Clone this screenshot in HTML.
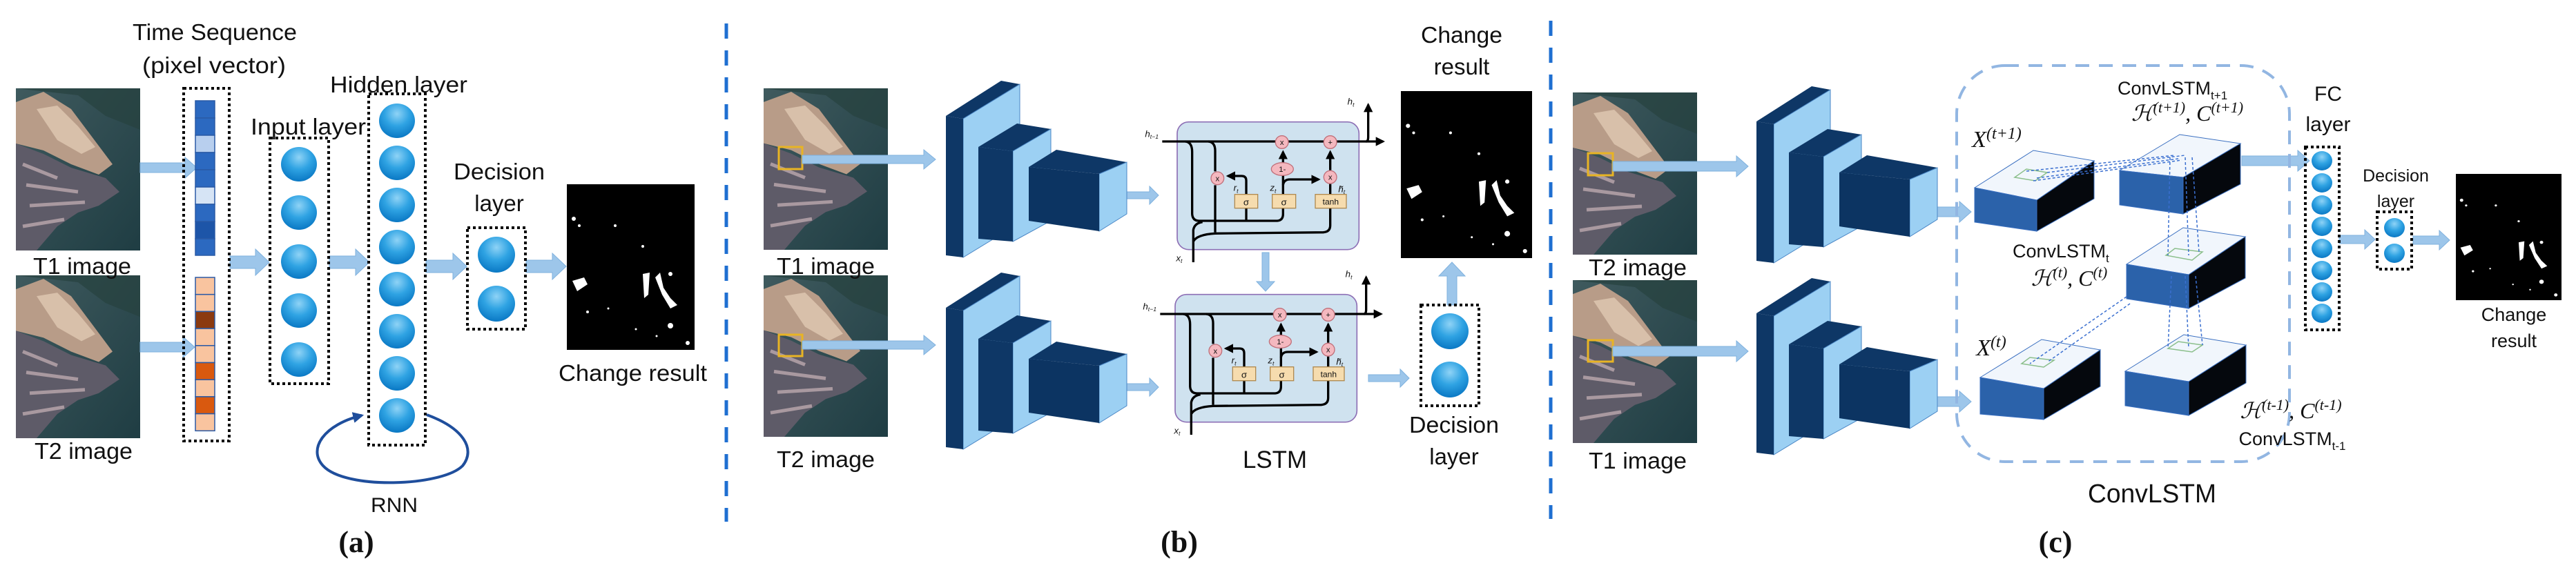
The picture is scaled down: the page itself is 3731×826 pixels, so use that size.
<!DOCTYPE html>
<html><head><meta charset="utf-8"><style>
html,body{margin:0;padding:0;background:#fff;}
svg{display:block;}
text{font-family:"Liberation Sans",sans-serif;fill:#111;}
.lbl{font-size:33px;}
.math{font-family:"Liberation Serif","DejaVu Serif",serif;font-style:italic;}
.cap{font-family:"Liberation Serif",serif;font-weight:bold;font-size:44px;}
</style></head><body>
<svg width="3731" height="826" viewBox="0 0 3731 826" xmlns="http://www.w3.org/2000/svg">
<defs>
  <radialGradient id="ball" cx="0.5" cy="0.3" r="0.7">
    <stop offset="0" stop-color="#8fd3f6"/><stop offset="0.5" stop-color="#2fa3e3"/><stop offset="1" stop-color="#0a78c4"/>
  </radialGradient>
  <linearGradient id="sea" x1="0" y1="0" x2="1" y2="1">
    <stop offset="0" stop-color="#3f5a5e"/><stop offset="1" stop-color="#1f3d43"/>
  </linearGradient>
  <symbol id="sat" viewBox="0 0 180 235" preserveAspectRatio="none">
    <rect width="180" height="235" fill="url(#sea)"/>
    <path d="M0,20 L40,5 L80,30 L110,70 L140,110 L120,125 L80,110 L40,90 L0,80Z" fill="#b89c88"/>
    <path d="M30,30 L60,25 L90,55 L115,85 L95,95 L60,75Z" fill="#d8c0aa"/>
    <path d="M0,80 L40,95 L80,115 L130,130 L150,150 L120,170 L90,180 L60,200 L30,235 L0,235Z" fill="#5e5b68"/>
    <path d="M10,110 L60,130 M15,140 L90,150 M20,170 L100,165 M10,200 L70,190" stroke="#a999a0" stroke-width="5" fill="none"/>
    <path d="M0,0 L180,0 L180,60 L130,40 L90,10Z" fill="#26423f" opacity="0.7"/>
  </symbol>
  <symbol id="chg" viewBox="0 0 185 240" preserveAspectRatio="none">
    <rect width="185" height="240" fill="#000"/>
    <g fill="#fff">
      <path d="M8,140 L25,135 L30,145 L15,155Z"/><circle cx="10" cy="50" r="3"/><circle cx="18" cy="60" r="2"/>
      <path d="M110,130 L120,128 L118,160 L112,165Z"/><path d="M128,135 L135,128 L140,150 L150,165 L160,175 L150,180 L138,160Z"/>
      <circle cx="150" cy="130" r="3"/><circle cx="70" cy="60" r="2"/><circle cx="110" cy="90" r="2"/>
      <circle cx="150" cy="205" r="4"/><circle cx="60" cy="180" r="1.5"/><circle cx="100" cy="210" r="1.5"/>
      <circle cx="30" cy="185" r="2"/><circle cx="175" cy="230" r="3"/><circle cx="130" cy="220" r="1.5"/>
    </g>
  </symbol>
  <marker id="ah" viewBox="0 0 10 10" refX="8" refY="5" markerWidth="4" markerHeight="4" orient="auto"><path d="M0,0 L10,5 L0,10Z" fill="#000"/></marker>
  <marker id="ahb" viewBox="0 0 10 10" refX="8" refY="5" markerWidth="4" markerHeight="4" orient="auto"><path d="M0,0 L10,5 L0,10Z" fill="#1f4e9c"/></marker>
  <symbol id="cnn" viewBox="0 0 300 320" overflow="visible">
    <g transform="translate(-1370,-117)">
    <polygon points="1370,168 1450,117 1477,122 1395,172" fill="#0e3766"/>
    <polygon points="1395,172 1477,122 1477,323 1395,373" fill="#9cd0f3" stroke="#4a86c5" stroke-width="1"/>
    <polygon points="1370,168 1395,172 1395,373 1370,370" fill="#0e3766"/>
    <polygon points="1417,213 1473,179 1522,187 1467,219" fill="#0e3766"/>
    <polygon points="1467,219 1522,187 1522,320 1467,350" fill="#9cd0f3" stroke="#4a86c5" stroke-width="1"/>
    <polygon points="1417,213 1467,219 1467,350 1417,346" fill="#0e3766"/>
    <polygon points="1490,242 1530,217 1632,235 1592,252" fill="#0e3766"/>
    <polygon points="1592,252 1632,235 1632,310 1592,335" fill="#9cd0f3" stroke="#4a86c5" stroke-width="1"/>
    <polygon points="1490,242 1592,252 1592,335 1490,320" fill="#0c3462"/>
    </g>
  </symbol>
  <symbol id="lstm" viewBox="0 0 1200 800" overflow="visible">
    <rect x="165" y="170" width="790" height="555" rx="50" fill="#cfe2ef" stroke="#8d6fb5" stroke-width="5"/>
    <g fill="none" stroke="#000" stroke-width="10">
      <path d="M100,255 L1060,255" marker-end="url(#ah)"/>
      <path d="M985,255 Q995,255 995,235 L995,95" marker-end="url(#ah)"/>
      <path d="M200,255 Q230,258 230,300 L230,570 Q232,600 260,600 L600,600 Q625,598 625,570 L625,545"/>
      <path d="M465,600 L465,545"/>
      <path d="M465,485 L465,425 Q465,405 445,405 L385,405" marker-end="url(#ah)"/>
      <path d="M300,255 Q330,258 330,295 L330,385"/>
      <path d="M330,445 L330,650"/>
      <path d="M235,780 L235,640 Q240,610 275,605"/>
      <path d="M235,690 Q250,660 330,655 L800,650 Q830,648 830,620 L830,545"/>
      <path d="M625,485 L625,400"/>
      <path d="M625,355 L625,300" marker-end="url(#ah)"/>
      <path d="M625,445 Q628,420 655,420 L780,420" marker-end="url(#ah)"/>
      <path d="M830,485 L830,440"/>
      <path d="M830,380 L830,300" marker-end="url(#ah)"/>
    </g>
    <g fill="#f4b8bf" stroke="#c0707a" stroke-width="4">
      <circle cx="620" cy="258" r="28"/><circle cx="830" cy="258" r="28"/>
      <circle cx="340" cy="415" r="28"/><circle cx="830" cy="410" r="28"/>
      <ellipse cx="622" cy="375" rx="48" ry="28"/>
    </g>
    <g font-family="Liberation Sans,sans-serif" font-size="34" text-anchor="middle" fill="#333">
      <text x="620" y="270">x</text><text x="830" y="270">+</text><text x="340" y="427">x</text><text x="830" y="422">x</text><text x="622" y="387">1-</text>
    </g>
    <g fill="#f6dcae" stroke="#b08a50" stroke-width="4">
      <rect x="415" y="485" width="100" height="60"/><rect x="578" y="485" width="102" height="60"/><rect x="765" y="485" width="135" height="60"/>
    </g>
    <g font-size="40" text-anchor="middle" fill="#222">
      <text x="465" y="532">σ</text><text x="629" y="532">σ</text><text x="832" y="530" font-size="36">tanh</text>
    </g>
    <g class="math" font-size="40" fill="#777">
      <text x="25" y="235">h<tspan font-size="26" dy="8">t−1</tspan></text>
      <text x="905" y="95">h<tspan font-size="26" dy="8">t</tspan></text>
      <text x="410" y="470">r<tspan font-size="26" dy="8">t</tspan></text>
      <text x="568" y="470">z<tspan font-size="26" dy="8">t</tspan></text>
      <text x="865" y="475">h̃<tspan font-size="26" dy="8">t</tspan></text>
      <text x="160" y="775">x<tspan font-size="26" dy="8">t</tspan></text>
    </g>
  </symbol>
</defs>

<!-- separators -->
<line x1="1052" y1="34" x2="1052" y2="756" stroke="#1f6fd1" stroke-width="5" stroke-dasharray="22 17"/>
<line x1="2246" y1="30" x2="2246" y2="752" stroke="#1f6fd1" stroke-width="5" stroke-dasharray="22 17"/>

<!-- ================= Panel (a) ================= -->
<text class="lbl" x="192" y="58" textLength="238" lengthAdjust="spacingAndGlyphs">Time Sequence</text>
<text class="lbl" x="206" y="106" textLength="208" lengthAdjust="spacingAndGlyphs">(pixel vector)</text>
<use href="#sat" x="23" y="128" width="180" height="235"/>
<use href="#sat" x="23" y="399" width="180" height="236"/>
<text class="lbl" x="48" y="397" textLength="142" lengthAdjust="spacingAndGlyphs">T1 image</text>
<text class="lbl" x="50" y="665" textLength="142" lengthAdjust="spacingAndGlyphs">T2 image</text>
<g fill="#9dc6ea" stroke="#7fb1de" stroke-width="1">
  <polygon points="203,236 268,236 268,228 285,243 268,258 268,250 203,250"/>
  <polygon points="203,496 265,496 265,488 282,503 265,518 265,510 203,510"/>
  <polygon points="333,371 370,371 370,361 390,380 370,399 370,389 333,389"/>
  <polygon points="477,371 515,371 515,361 535,380 515,399 515,389 477,389"/>
  <polygon points="617,377 656,377 656,367 676,386 656,405 656,395 617,395"/>
  <polygon points="762,377 800,377 800,367 820,386 800,405 800,395 762,395"/>
</g>
<rect x="266" y="128" width="66" height="511" fill="none" stroke="#000" stroke-width="4" stroke-dasharray="4 4"/>
<g stroke="#2a5aa6" stroke-width="1.5">
  <rect x="283" y="146" width="28" height="25" fill="#2c69c0"/><rect x="283" y="171" width="28" height="25" fill="#2c69c0"/>
  <rect x="283" y="196" width="28" height="25" fill="#b8cfee"/><rect x="283" y="221" width="28" height="25" fill="#2c69c0"/>
  <rect x="283" y="246" width="28" height="25" fill="#2c69c0"/><rect x="283" y="271" width="28" height="25" fill="#d6e4f5"/>
  <rect x="283" y="296" width="28" height="25" fill="#2c69c0"/><rect x="283" y="321" width="28" height="25" fill="#1d55a8"/>
  <rect x="283" y="346" width="28" height="24" fill="#2c69c0"/>
</g>
<g stroke="#2a5aa6" stroke-width="1.5">
  <rect x="283" y="402" width="28" height="24.7" fill="#f9c49f"/><rect x="283" y="426.7" width="28" height="24.7" fill="#f9c49f"/>
  <rect x="283" y="451.4" width="28" height="24.7" fill="#8b3a10"/><rect x="283" y="476.1" width="28" height="24.7" fill="#f9c49f"/>
  <rect x="283" y="500.8" width="28" height="24.7" fill="#f9c49f"/><rect x="283" y="525.5" width="28" height="24.7" fill="#d9590f"/>
  <rect x="283" y="550.2" width="28" height="24.7" fill="#f9c49f"/><rect x="283" y="574.9" width="28" height="24.7" fill="#d9590f"/>
  <rect x="283" y="599.6" width="28" height="24.7" fill="#f9c49f"/>
</g>
<text class="lbl" x="363" y="195" textLength="167" lengthAdjust="spacingAndGlyphs">Input layer</text>
<rect x="391" y="200" width="85" height="356" fill="none" stroke="#000" stroke-width="4" stroke-dasharray="4 4"/>
<g fill="url(#ball)">
  <ellipse cx="433" cy="238" rx="26" ry="25"/><ellipse cx="433" cy="308" rx="26" ry="25"/><ellipse cx="433" cy="379" rx="26" ry="25"/>
  <ellipse cx="433" cy="450" rx="26" ry="25"/><ellipse cx="433" cy="521" rx="26" ry="25"/>
</g>
<text class="lbl" x="478" y="134" textLength="199" lengthAdjust="spacingAndGlyphs">Hidden layer</text>
<rect x="534" y="136" width="82" height="509" fill="none" stroke="#000" stroke-width="4" stroke-dasharray="4 4"/>
<g fill="url(#ball)">
  <ellipse cx="575" cy="175" rx="26" ry="25"/><ellipse cx="575" cy="236" rx="26" ry="25"/><ellipse cx="575" cy="297" rx="26" ry="25"/>
  <ellipse cx="575" cy="358" rx="26" ry="25"/><ellipse cx="575" cy="419" rx="26" ry="25"/><ellipse cx="575" cy="480" rx="26" ry="25"/>
  <ellipse cx="575" cy="541" rx="26" ry="25"/><ellipse cx="575" cy="602" rx="26" ry="25"/>
</g>
<path d="M618,601 C670,620 690,650 670,675 C640,705 500,710 468,675 C445,650 470,615 524,602" fill="none" stroke="#1f4e9c" stroke-width="4" marker-end="url(#ahb)"/>
<text x="537" y="742" font-size="30" textLength="68" lengthAdjust="spacingAndGlyphs">RNN</text>
<text class="lbl" x="657" y="260" textLength="132" lengthAdjust="spacingAndGlyphs">Decision</text>
<text class="lbl" x="723" y="306" text-anchor="middle">layer</text>
<rect x="677" y="330" width="84" height="147" fill="none" stroke="#000" stroke-width="4" stroke-dasharray="4 4"/>
<g fill="url(#ball)"><ellipse cx="719" cy="369" rx="27" ry="26"/><ellipse cx="719" cy="440" rx="27" ry="26"/></g>
<use href="#chg" x="821" y="267" width="185" height="240"/>
<text class="lbl" x="809" y="552" textLength="215" lengthAdjust="spacingAndGlyphs">Change result</text>
<text class="cap" x="516" y="800" text-anchor="middle">(a)</text>

<!-- ================= Panel (b) ================= -->
<use href="#sat" x="1106" y="128" width="180" height="234"/>
<use href="#sat" x="1106" y="399" width="180" height="234"/>
<rect x="1128" y="213" width="34" height="32" fill="none" stroke="#e8b424" stroke-width="3"/>
<rect x="1128" y="485" width="34" height="31" fill="none" stroke="#e8b424" stroke-width="3"/>
<text class="lbl" x="1125" y="397" textLength="142" lengthAdjust="spacingAndGlyphs">T1 image</text>
<text class="lbl" x="1125" y="677" textLength="142" lengthAdjust="spacingAndGlyphs">T2 image</text>
<g fill="#9dc6ea" stroke="#7fb1de" stroke-width="1">
  <polygon points="1162,225 1338,225 1338,217 1355,231 1338,245 1338,237 1162,237"/>
  <polygon points="1162,494 1338,494 1338,486 1355,500 1338,514 1338,506 1162,506"/>
  <polygon points="1613,278 1665,278 1665,270 1678,283 1665,296 1665,288 1613,288"/>
  <polygon points="1613,556 1665,556 1665,548 1678,561 1665,574 1665,566 1613,566"/>
  <polygon points="1828,366 1838,366 1838,408 1846,408 1833,422 1820,408 1828,408"/>
  <polygon points="1982,543 2028,543 2028,535 2041,548 2028,561 2028,553 1982,553"/>
  <polygon points="2096,442 2110,442 2110,400 2122,400 2103,380 2084,400 2096,400"/>
</g>
<use href="#cnn" x="1370" y="117" width="300" height="320"/>
<use href="#cnn" x="1370" y="395" width="300" height="320"/>
<use href="#lstm" x="1650" y="120" width="400" height="266.67"/>
<use href="#lstm" x="1647" y="370" width="400" height="266.67"/>
<text class="lbl" x="2058" y="62" textLength="118" lengthAdjust="spacingAndGlyphs">Change</text>
<text class="lbl" x="2117" y="108" text-anchor="middle">result</text>
<use href="#chg" x="2029" y="132" width="190" height="242"/>
<rect x="2058" y="442" width="84" height="146" fill="none" stroke="#000" stroke-width="4" stroke-dasharray="4 4"/>
<g fill="url(#ball)"><ellipse cx="2100" cy="480" rx="27" ry="26"/><ellipse cx="2100" cy="550" rx="27" ry="26"/></g>
<text class="lbl" x="2041" y="627" textLength="130" lengthAdjust="spacingAndGlyphs">Decision</text>
<text class="lbl" x="2106" y="673" text-anchor="middle">layer</text>
<text x="1800" y="678" font-size="35" textLength="93" lengthAdjust="spacingAndGlyphs">LSTM</text>
<text class="cap" x="1708" y="800" text-anchor="middle">(b)</text>

<!-- ================= Panel (c) ================= -->
<use href="#sat" x="2278" y="134" width="180" height="235"/>
<use href="#sat" x="2278" y="406" width="180" height="236"/>
<rect x="2300" y="222" width="36" height="32" fill="none" stroke="#e8b424" stroke-width="3"/>
<rect x="2300" y="493" width="36" height="31" fill="none" stroke="#e8b424" stroke-width="3"/>
<text class="lbl" x="2301" y="399" textLength="142" lengthAdjust="spacingAndGlyphs">T2 image</text>
<text class="lbl" x="2301" y="679" textLength="142" lengthAdjust="spacingAndGlyphs">T1 image</text>
<g fill="#9dc6ea" stroke="#7fb1de" stroke-width="1">
  <polygon points="2336,234 2515,234 2515,226 2532,241 2515,256 2515,248 2336,248"/>
  <polygon points="2336,502 2515,502 2515,494 2532,509 2515,524 2515,516 2336,516"/>
  <polygon points="2789,300 2838,300 2838,292 2855,307 2838,322 2838,314 2789,314"/>
  <polygon points="2789,575 2838,575 2838,567 2855,582 2838,597 2838,589 2789,589"/>
  <polygon points="3247,226 3328,226 3328,218 3345,233 3328,248 3328,240 3247,240"/>
  <polygon points="3388,341 3425,341 3425,333 3440,347 3425,361 3425,353 3388,353"/>
  <polygon points="3495,342 3533,342 3533,334 3548,348 3533,362 3533,354 3495,354"/>
</g>
<use href="#cnn" x="2544" y="125" width="300" height="320"/>
<use href="#cnn" x="2544" y="403" width="300" height="320"/>
<rect x="2834" y="95" width="482" height="574" rx="70" fill="none" stroke="#92b6e2" stroke-width="4" stroke-dasharray="20 14"/>
<!-- blocks -->
<g stroke="#3a6fc0" stroke-width="1">
  <polygon points="2860,272 2945,218 3033,233 2950,290" fill="#f1f6fc"/>
  <polygon points="2860,272 2950,290 2950,335 2860,322" fill="#2b62aa"/>
  <polygon points="2950,290 3033,233 3033,288 2950,335" fill="#05080d"/>
  <polygon points="3070,247 3157,195 3245,208 3162,257" fill="#f1f6fc"/>
  <polygon points="3070,247 3162,257 3162,310 3070,297" fill="#2b62aa"/>
  <polygon points="3162,257 3245,208 3245,267 3162,310" fill="#05080d"/>
  <polygon points="3080,383 3162,330 3252,343 3170,398" fill="#f1f6fc"/>
  <polygon points="3080,383 3170,398 3170,447 3080,433" fill="#2b62aa"/>
  <polygon points="3170,398 3252,343 3252,403 3170,447" fill="#05080d"/>
  <polygon points="2868,547 2957,492 3042,507 2960,563" fill="#f1f6fc"/>
  <polygon points="2868,547 2960,563 2960,608 2868,600" fill="#2b62aa"/>
  <polygon points="2960,563 3042,507 3042,560 2960,608" fill="#05080d"/>
  <polygon points="3078,538 3163,485 3253,500 3170,553" fill="#f1f6fc"/>
  <polygon points="3078,538 3170,553 3170,602 3078,588" fill="#2b62aa"/>
  <polygon points="3170,553 3253,500 3253,555 3170,602" fill="#05080d"/>
</g>
<g fill="none" stroke="#8bbf8b" stroke-width="1.5">
  <polygon points="2918,257 2935,245 2965,250 2948,262"/>
  <polygon points="3137,370 3150,360 3190,365 3175,377"/>
  <polygon points="2928,527 2940,518 2975,522 2960,532"/>
  <polygon points="3140,505 3155,495 3190,500 3175,510"/>
</g>
<g fill="none" stroke="#3a6fd0" stroke-width="1.5" stroke-dasharray="4 3">
  <path d="M2935,248 L3150,225 M2950,258 L3155,230 M2965,250 L3165,225 M2945,262 L3160,232"/>
  <path d="M3143,228 L3140,370 M3165,228 L3170,370 M3175,228 L3185,365"/>
  <path d="M3080,430 L2940,527 M3085,440 L2965,525"/>
  <path d="M3145,400 L3140,505 M3165,400 L3170,505 M3180,400 L3190,500"/>
</g>
<text x="3067" y="137" font-size="27">ConvLSTM<tspan font-size="17" dy="7">t+1</tspan></text>
<text class="math" x="3168" y="175" text-anchor="middle" font-size="32">ℋ<tspan font-size="22" dy="-12">(t+1)</tspan><tspan dy="12">, C</tspan><tspan font-size="22" dy="-12">(t+1)</tspan></text>
<text class="math" x="2892" y="213" text-anchor="middle" font-size="34">X<tspan font-size="24" dy="-12">(t+1)</tspan></text>
<text x="2915" y="373" font-size="27">ConvLSTM<tspan font-size="17" dy="7">t</tspan></text>
<text class="math" x="2997" y="414" text-anchor="middle" font-size="32">ℋ<tspan font-size="22" dy="-12">(t)</tspan><tspan dy="12">, C</tspan><tspan font-size="22" dy="-12">(t)</tspan></text>
<text class="math" x="2884" y="515" text-anchor="middle" font-size="34">X<tspan font-size="24" dy="-12">(t)</tspan></text>
<text class="math" x="3318" y="606" text-anchor="middle" font-size="32">ℋ<tspan font-size="22" dy="-12">(t-1)</tspan><tspan dy="12">, C</tspan><tspan font-size="22" dy="-12">(t-1)</tspan></text>
<text x="3320" y="645" text-anchor="middle" font-size="27">ConvLSTM<tspan font-size="17" dy="7">t-1</tspan></text>
<text x="3024" y="728" font-size="38" textLength="186" lengthAdjust="spacingAndGlyphs">ConvLSTM</text>
<text x="3372" y="146" text-anchor="middle" font-size="30">FC</text>
<text x="3372" y="190" text-anchor="middle" font-size="30">layer</text>
<rect x="3339" y="213" width="49" height="265" fill="none" stroke="#000" stroke-width="4" stroke-dasharray="4 4"/>
<g fill="url(#ball)">
  <ellipse cx="3363" cy="233" rx="15" ry="14"/><ellipse cx="3363" cy="265" rx="15" ry="14"/><ellipse cx="3363" cy="297" rx="15" ry="14"/>
  <ellipse cx="3363" cy="328" rx="15" ry="14"/><ellipse cx="3363" cy="360" rx="15" ry="14"/><ellipse cx="3363" cy="392" rx="15" ry="14"/>
  <ellipse cx="3363" cy="423" rx="15" ry="14"/><ellipse cx="3363" cy="454" rx="15" ry="14"/>
</g>
<text x="3470" y="263" text-anchor="middle" font-size="25">Decision</text>
<text x="3470" y="300" text-anchor="middle" font-size="25">layer</text>
<rect x="3443" y="307" width="50" height="83" fill="none" stroke="#000" stroke-width="4" stroke-dasharray="4 4"/>
<g fill="url(#ball)"><ellipse cx="3468" cy="330" rx="15" ry="14"/><ellipse cx="3468" cy="367" rx="15" ry="14"/></g>
<use href="#chg" x="3557" y="252" width="153" height="183"/>
<text x="3641" y="465" text-anchor="middle" font-size="27">Change</text>
<text x="3641" y="503" text-anchor="middle" font-size="27">result</text>
<text class="cap" x="2977" y="800" text-anchor="middle">(c)</text>
</svg>
</body></html>
